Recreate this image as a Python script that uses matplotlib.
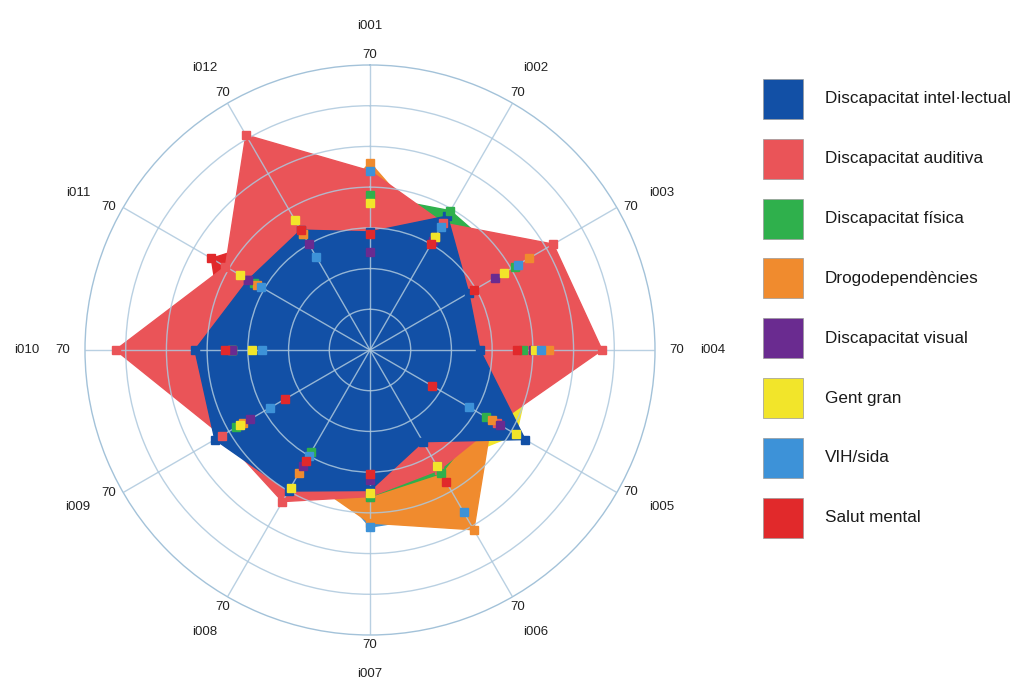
import numpy as np
import matplotlib
matplotlib.use("Agg")
import matplotlib.pyplot as plt
from matplotlib.patches import Rectangle

plt.rcParams["font.family"] = ["Liberation Sans", "DejaVu Sans"]

categories = ["i001", "i002", "i003", "i004", "i005", "i006",
              "i007", "i008", "i009", "i010", "i011", "i012"]

series_names = ["Discapacitat intel·lectual", "Discapacitat auditiva",
                "Discapacitat física", "Drogodependències",
                "Discapacitat visual", "Gent gran", "VIH/sida", "Salut mental"]
series_colors = ["#1250a6", "#ea5458", "#2fb04c", "#f08b2e",
                 "#6a2b90", "#f2e52a", "#3d92d8", "#e1292b"]

intel = [29, 38, 28, 27, 44, 26, 34.5, 40, 44, 43, 34.5, 34]
auditiva = [44, 36, 52, 57, 36, 34, 36, 43, 42, 62.5, 41, 61]
fisica = [38, 39.5, 41, 37.5, 33, 35, 36, 29, 38, 34, 33, 33]
drogo = [46, 32, 45, 44, 34.5, 51, 42.5, 35, 36, 34, 32, 33]
visual = [24, 31, 35.5, 40, 37, 33, 32, 33, 34, 34, 34.5, 30]
gent_gran = [36, 32, 38, 40.5, 41.5, 33, 35, 39, 37, 29, 37, 37]
vih = [44, 35, 42, 42, 28, 46, 43.5, 30, 28.5, 26.5, 31, 26.5]
salut_mental = [28.5, 30, 29.5, 36, 17.5, 37.5, 30.5, 31.5, 24, 35.5, 45, 34]

series_values = [intel, auditiva, fisica, drogo, visual, gent_gran, vih, salut_mental]
axis_max = 70

W, H = 1011, 697
fig = plt.figure(figsize=(W / 100, H / 100), dpi=100)
cx, cy, rad = 370, 350, 285
ax = fig.add_axes([(cx - rad) / W, (H - cy - rad) / H, 2 * rad / W, 2 * rad / H],
                  projection="polar")
ax.set_theta_zero_location("N")
ax.set_theta_direction(-1)

theta = np.deg2rad(np.arange(len(categories)) * 360 / len(categories))
closed = np.append(theta, theta[0])

# fills: first series ends on top
for color, vals in reversed(list(zip(series_colors, series_values))):
    ax.fill(closed, np.append(vals, vals[0]), facecolor=color, edgecolor=color,
            lw=1, zorder=1)

for i, (color, vals) in enumerate(zip(series_colors, series_values)):
    ax.plot(theta, vals, ls="none", marker="s", ms=5.5, color=color,
            mec=color, zorder=4 + i, clip_on=False)

ax.set_ylim(0, axis_max)
ax.set_yticks(range(10, axis_max, 10))
ax.set_yticklabels([])
ax.set_xticks(theta)
ax.set_xticklabels([])
ax.set_axisbelow(False)
ax.grid(color="#adc8dd", lw=1, alpha=0.85)
ax.spines["polar"].set_color("#a3c2d9")
ax.spines["polar"].set_linewidth(1)

for k, cat in enumerate(categories):
    a = theta[k]
    s, c = np.sin(a), np.cos(a)
    ox = 4 + 18 * abs(s) ** 4
    oy = 10 if abs(c) > 0.7 else 0
    dx = np.sign(round(s, 6)) * ox
    dy = np.sign(round(c, 6)) * oy
    ax.annotate(str(axis_max), xy=(a, axis_max), xytext=(dx, dy),
                textcoords="offset pixels", ha="center", va="center",
                fontsize=9.5, color="#222222", annotation_clip=False)
    ax.annotate(cat, xy=(a, axis_max), xytext=(dx + 36 * s, dy + 29 * c),
                textcoords="offset pixels", ha="center", va="center",
                fontsize=9.5, color="#222222", annotation_clip=False)

# legend on the right
for i, (name, color) in enumerate(zip(series_names, series_colors)):
    yc = 99 + 59.8 * i
    fig.add_artist(Rectangle((763 / W, 1 - (yc + 20) / H), 40 / W, 40 / H,
                             transform=fig.transFigure, facecolor=color,
                             edgecolor="#999999", lw=0.5))
    fig.text(825 / W, 1 - yc / H, name, ha="left", va="center",
             fontsize=12.3, color="#1a1a1a")

fig.savefig("out.png", dpi=100)
